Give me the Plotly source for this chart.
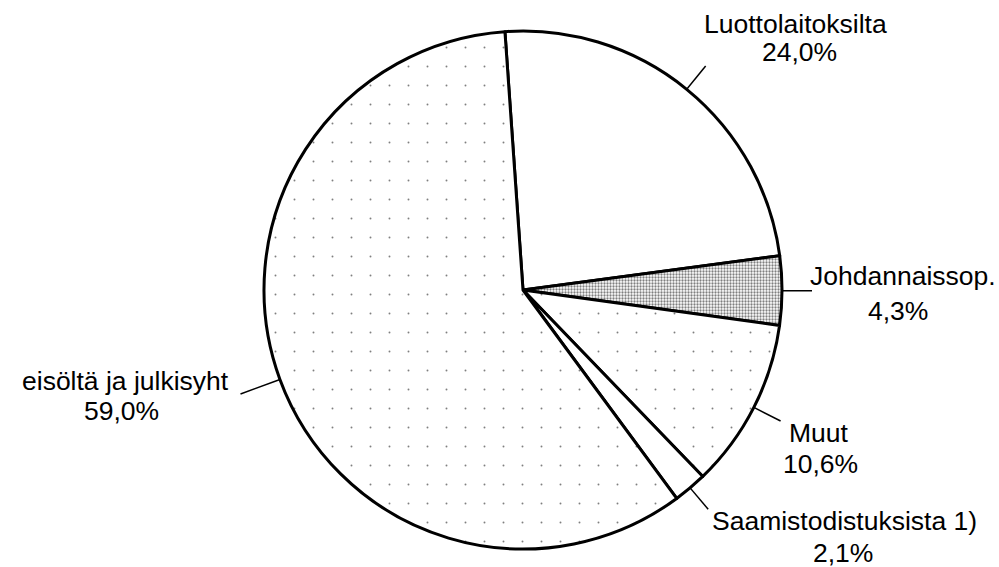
import math
import plotly.graph_objects as go

# ---- data ----
labels = ["Luottolaitoksilta", "Johdannaissop.", "Muut", "Saamistodistuksista 1)", "eisöltä ja julkisyht"]
values = [24.0, 4.3, 10.6, 2.1, 59.0]

# ---- styles / layout ----
W, H = 999, 567
CX, CY, R = 523, 290, 259            # pie centre and radius in pixels
START = -4                            # rotation of first slice (deg, clockwise from 12 o'clock)
pattern_shapes = ["", ".", ".", "", "."]
pattern_sizes = [10, 3, 19, 10, 19]
pattern_solid = [0.0, 0.45, 0.008, 0.0, 0.008]
leader_len = [30, 30, 30, 28, 42]
# label line positions in pixels: (name x, name y, name xanchor) and (percent x, percent y)
name_pos = [(795, 24, "center"), (903, 276, "center"), (819, 433, "center"),
            (844, 521, "center"), (231, 381, "right")]
pct_pos = [(799, 52), (898, 311), (820, 464), (843, 553), (121, 411)]
FONT = dict(family="Liberation Sans, Arial, sans-serif", size=26.5, color="black")


def px(x):
    return x / W


def py(y):
    return 1 - y / H


fig = go.Figure(go.Pie(
    labels=labels,
    values=values,
    sort=False,
    direction="clockwise",
    rotation=START,
    textinfo="none",
    hoverinfo="label+percent",
    showlegend=False,
    marker=dict(
        colors=["white"] * len(values),
        line=dict(color="black", width=3),
        pattern=dict(shape=pattern_shapes, size=pattern_sizes, solidity=pattern_solid,
                     fgcolor="black", bgcolor="white", fillmode="overlay"),
    ),
    domain=dict(x=[px(CX - R), px(CX + R)], y=[py(CY + R), py(CY - R)]),
))

total = sum(values)
shapes = []
annotations = []
cum = 0.0
for i, (lab, v) in enumerate(zip(labels, values)):
    mid = math.radians(START + (cum + v / 2) / total * 360)
    cum += v
    x0, y0 = CX + R * math.sin(mid), CY - R * math.cos(mid)
    r1 = R + leader_len[i]
    x1, y1 = CX + r1 * math.sin(mid), CY - r1 * math.cos(mid)
    shapes.append(dict(type="line", xref="paper", yref="paper",
                       x0=px(x0), y0=py(y0), x1=px(x1), y1=py(y1),
                       line=dict(color="black", width=1.5)))
    pct = f"{v:.1f}".replace(".", ",") + "%"
    nx, ny, anc = name_pos[i]
    qx, qy = pct_pos[i]
    annotations.append(dict(text=lab, x=px(nx), y=py(ny), xref="paper", yref="paper",
                            xanchor=anc, yanchor="middle", showarrow=False, font=FONT))
    annotations.append(dict(text=pct, x=px(qx), y=py(qy), xref="paper", yref="paper",
                            xanchor="center", yanchor="middle", showarrow=False, font=FONT))

fig.update_layout(
    width=W, height=H,
    margin=dict(l=0, r=0, t=0, b=0),
    paper_bgcolor="white", plot_bgcolor="white",
    shapes=shapes, annotations=annotations,
)

fig.write_html("out.html",
               config={"displayModeBar": False},
               post_script="document.body.style.margin='0';document.body.style.overflow='hidden';")
